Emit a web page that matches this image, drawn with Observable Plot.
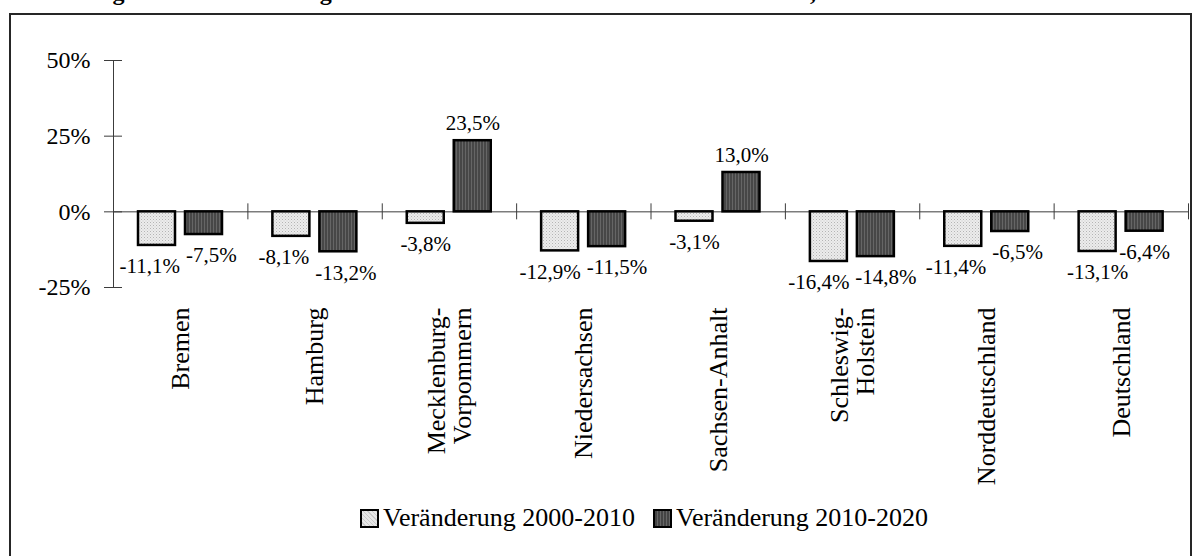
<!DOCTYPE html>
<html lang="de">
<head>
<meta charset="utf-8">
<script src="https://cdn.jsdelivr.net/npm/d3@7"></script>
<script src="https://cdn.jsdelivr.net/npm/@observablehq/plot@0.6"></script>
<style>
  html, body { margin: 0; padding: 0; background: #fff; width: 1196px; height: 556px; overflow: hidden; }
  body { position: relative; font-family: "Times New Roman", "Liberation Serif", serif; color: #000; }
  #title { position: absolute; left: 15px; top: -20px; font-family: "Times New Roman", "Liberation Serif", serif; font-weight: bold; font-size: 24px; line-height: 24px; white-space: nowrap; }
  #frame { position: absolute; left: 9px; top: 13px; width: 1179px; height: 620px; border: 2px solid #262626; }
  #chart { position: absolute; left: 0; top: 0; }
  #legend { position: absolute; left: 360px; top: 503px; display: flex; align-items: center; font-size: 26px; line-height: 30px; white-space: nowrap; }
  .item { display: flex; align-items: center; margin-right: 18px; }
  .sw { width: 15px; height: 15px; border: 2px solid #000; margin-right: 4px; }
</style>
</head>
<body>
<div id="title">Abbildung 1: Die Veränderung der Einwohnerzahlen zwischen 2000 und 2020, in %</div>
<div id="frame"></div>
<div id="chart"></div>
<div id="legend"></div>
<script>
// ---- data ----
const states = ["Bremen", "Hamburg", "Mecklenburg-Vorpommern", "Niedersachsen", "Sachsen-Anhalt", "Schleswig-Holstein", "Norddeutschland", "Deutschland"];
const stateLabels = ["Bremen", "Hamburg", "Mecklenburg-\nVorpommern", "Niedersachsen", "Sachsen-Anhalt", "Schleswig-\nHolstein", "Norddeutschland", "Deutschland"];
const change2000_2010 = [-11.1, -8.1, -3.8, -12.9, -3.1, -16.4, -11.4, -13.1];
const change2010_2020 = [-7.5, -13.2, 23.5, -11.5, 13.0, -14.8, -6.5, -6.4];
const seriesNames = ["Veränderung 2000-2010", "Veränderung 2010-2020"];
const yTicks = [-25, 0, 25, 50];

// ---- layout / style ----
const W = 1196, H = 500;
const mL = 113, mR = 8, mT = 60, mB = 213;
const bw = (W - mL - mR) / states.length;
const barW = 37;
const off1 = 25, off2 = 72;
const fillLight = "url(#patLight)", fillDark = "url(#patDark)";
const axisColor = "#3c3c3c";
const fmt = v => v.toFixed(1).replace(".", ",") + "%";
const labelFont = 21;

const d1 = states.map((s, i) => ({state: s, v: change2000_2010[i], series: 0}));
const d2 = states.map((s, i) => ({state: s, v: change2010_2020[i], series: 1}));

// y scale for label collision checks
const yScale = Plot.scale({y: {domain: [-25, 50], range: [H - mB, mT]}});
const ctx = document.createElement("canvas").getContext("2d");
ctx.font = `${labelFont}px "Times New Roman", "Liberation Serif", serif`;
const tw = t => ctx.measureText(t).width;

const base = [off1 + barW / 2 - bw / 2, off2 + barW / 2 - bw / 2];
const labels = [];
states.forEach((s, i) => {
  const a = d1[i], b = d2[i];
  const la = {...a, dx: base[0], dy: a.v < 0 ? 21 : -17};
  const lb = {...b, dx: base[1], dy: b.v < 0 ? 21 : -17};
  if (a.v < 0 && b.v < 0) {
    const ya = yScale.apply(a.v) + la.dy, yb = yScale.apply(b.v) + lb.dy;
    if (Math.abs(ya - yb) < 20) {
      const need = (tw(fmt(a.v)) + tw(fmt(b.v))) / 2 + 6 - (base[1] - base[0]);
      if (need > 0) { la.dx -= need / 2; lb.dx += need / 2; }
    }
  }
  labels.push(la, lb);
});
const labelGroups = d3.groups(labels, d => `${d.dx.toFixed(2)}|${d.dy}`);

const defs = () => {
  const ns = "http://www.w3.org/2000/svg";
  const g = document.createElementNS(ns, "defs");
  g.innerHTML = `
    <pattern id="patLight" width="3" height="3" patternUnits="userSpaceOnUse">
      <rect width="3" height="3" fill="#ececec"/>
      <rect x="0" y="0" width="1" height="1" fill="#b4b4b4"/>
      <rect x="1.5" y="1.5" width="1" height="1" fill="#c8c8c8"/>
    </pattern>
    <pattern id="patDark" width="3" height="3" patternUnits="userSpaceOnUse">
      <rect width="3" height="3" fill="#474747"/>
      <rect x="0" y="0" width="1" height="3" fill="#666"/>
    </pattern>`;
  return g;
};

const chart = Plot.plot({
  width: W, height: H,
  marginLeft: mL, marginRight: mR, marginTop: mT, marginBottom: mB,
  style: {fontFamily: '"Times New Roman", "Liberation Serif", serif', color: "#000", background: "transparent"},
  x: {type: "band", domain: states, padding: 0, round: false},
  y: {domain: [-25, 50]},
  marks: [
    defs,
    // y axis line at the left edge of the first category band
    Plot.ruleX([states[0]], {x: d => d, dx: -bw / 2, y1: -25, y2: 50, stroke: axisColor}),
    Plot.ruleY([0], {stroke: axisColor}),
    Plot.ruleX(states, {x: d => d, y1: 0, y2: 0, dx: bw / 2, insetTop: -8, insetBottom: -8, stroke: axisColor}),
    Plot.axisY({ticks: yTicks, tickSize: 18, dx: 9, stroke: axisColor, tickFormat: () => "", label: null}),
    Plot.axisY({ticks: yTicks, tickSize: 0, tickPadding: 23, fontSize: 24, tickFormat: d => d + "%", label: null}),
    Plot.axisX({tickSize: 0, tickPadding: 20, tickRotate: -90, fontSize: 26, label: null,
      tickFormat: d => stateLabels[states.indexOf(d)]}),
    Plot.barY(d1, {x: "state", y: "v", insetLeft: off1, insetRight: bw - off1 - barW,
      fill: fillLight, stroke: "#000", strokeWidth: 2.5}),
    Plot.barY(d2, {x: "state", y: "v", insetLeft: off2, insetRight: bw - off2 - barW,
      fill: fillDark, stroke: "#000", strokeWidth: 2.5}),
    ...labelGroups.map(([, g]) => Plot.text(g, {x: "state", y: "v", text: d => fmt(d.v),
      dx: g[0].dx, dy: g[0].dy, fontSize: labelFont, lineAnchor: "middle", fill: "#000"}))
  ]
});
document.getElementById("chart").append(chart);

// legend
const legend = document.getElementById("legend");
const swFill = ["repeating-linear-gradient(45deg, #e6e6e6 0 2px, #c8c8c8 2px 3px)", "repeating-linear-gradient(90deg, #444 0 2px, #666 2px 3px)"];
seriesNames.forEach((name, i) => {
  const item = document.createElement("div");
  item.className = "item";
  const sw = document.createElement("div");
  sw.className = "sw";
  sw.style.background = swFill[i];
  const t = document.createElement("span");
  t.textContent = name;
  item.append(sw, t);
  legend.append(item);
});
</script>
</body>
</html>
